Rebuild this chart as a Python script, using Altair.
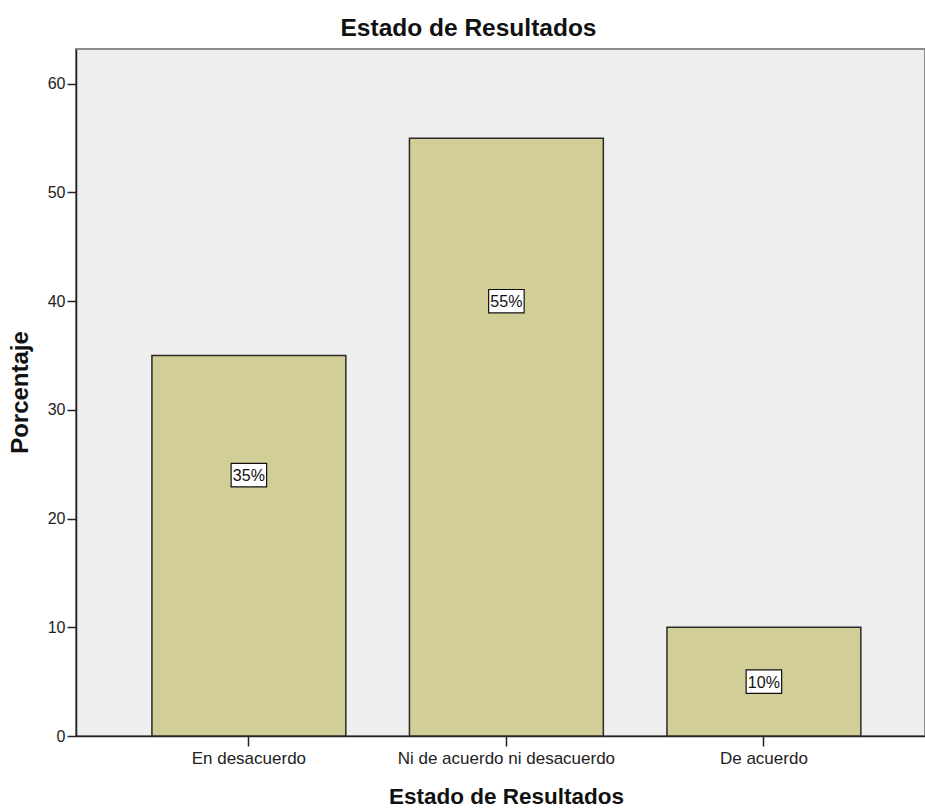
import altair as alt
import pandas as pd

categories = ["En desacuerdo", "Ni de acuerdo ni desacuerdo", "De acuerdo"]
percentages = [35, 55, 10]
label_texts = ["35%", "55%", "10%"]
label_y = [24, 40, 5]

df = pd.DataFrame({
    "cat": categories,
    "pct": percentages,
    "lab": label_texts,
    "laby": label_y,
})

FONT = "Liberation Sans"

x_scale = alt.Scale(domain=categories, paddingInner=0.247, paddingOuter=0.272, align=0.542)
y_scale = alt.Scale(domain=[0, 63.2], nice=False, zero=True)

x_enc = alt.X(
    "cat:N", scale=x_scale, sort=categories,
    axis=alt.Axis(
        title="Estado de Resultados", labelAngle=0, labelFontSize=17, labelFont=FONT,
        labelColor="#222222", labelPadding=4, labelLimit=500, tickSize=10, tickColor="#222222",
        tickWidth=1.5, domainColor="#222222", domainWidth=1.5,
        titleFont=FONT, titleFontSize=22.5, titleFontWeight="bold", titleColor="#111111",
        titleX=430, titleY=67, titleBaseline="alphabetic", titleAlign="center",
    ),
)

bars = alt.Chart(df).mark_bar(
    color="#D2CE97", stroke="#2a2a2a", strokeWidth=1.5
).encode(
    x=x_enc,
    y=alt.Y(
        "pct:Q", scale=y_scale,
        axis=alt.Axis(
            title="Porcentaje", values=[0, 10, 20, 30, 40, 50, 60], grid=False,
            labelFontSize=16, labelFont=FONT, labelColor="#222222", labelPadding=2,
            tickSize=9, tickColor="#222222", tickWidth=1.5,
            domainColor="#222222", domainWidth=1.5,
            titleFont=FONT, titleFontSize=24, titleFontWeight="bold", titleColor="#111111",
            titleAngle=270, titleX=-56, titleY=343, titleAlign="center", titleBaseline="middle",
        ),
    ),
)

boxes = alt.Chart(df).mark_point(
    shape="M-1,-0.66H1V0.66H-1Z", filled=True, fill="white", stroke="#111111",
    strokeWidth=1.2, opacity=1, size=1260,
).encode(
    x=alt.X("cat:N", scale=x_scale, sort=categories),
    y=alt.Y("laby:Q", scale=y_scale),
)

labels = alt.Chart(df).mark_text(
    font=FONT, fontSize=16, color="#111111", baseline="middle", align="center", dy=1
).encode(
    x=alt.X("cat:N", scale=x_scale, sort=categories),
    y=alt.Y("laby:Q", scale=y_scale),
    text="lab:N",
)

chart = alt.layer(bars, boxes, labels).properties(
    width=849,
    height=687,
    background="white",
    title=alt.TitleParams(
        "Estado de Resultados", font=FONT, fontSize=24.5, fontWeight="bold",
        color="#111111", anchor="middle", dx=-32, offset=-11, baseline="alphabetic",
        frame="group",
    ),
    autosize=alt.AutoSizeParams(type="none"),
    padding={"left": 76, "top": 49, "right": 0, "bottom": 73},
).configure_view(
    fill="#EFEFEF", stroke="#8c8c8c", strokeWidth=2
)

chart.save("out.html", embed_options={"renderer": "svg", "actions": False})
